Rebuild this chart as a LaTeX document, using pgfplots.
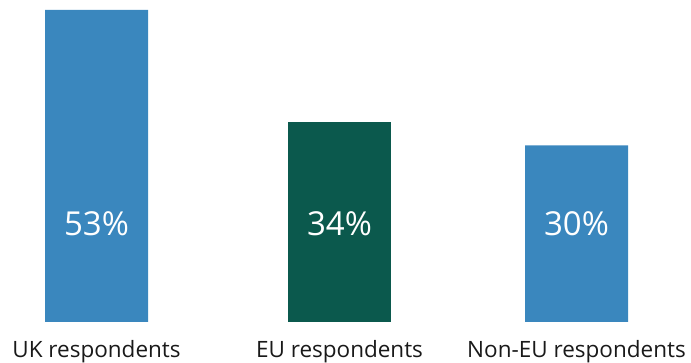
\documentclass[border=0pt]{standalone}
\usepackage{pgfplots}
\pgfplotsset{compat=1.18}
\usepackage{fontspec}
\setmainfont{Open Sans}
\definecolor{barblue}{RGB}{58,135,190}
\definecolor{bargreen}{RGB}{11,89,77}
\begin{document}
\begin{tikzpicture}
\begin{axis}[
  scale only axis,
  width=691pt, height=322pt,
  xmin=0, xmax=691,
  ymin=0, ymax=54.7,
  axis line style={draw=none},
  ytick=\empty,
  xtick={96.5,339.5,576.5},
  xticklabels={UK respondents, EU respondents, Non-EU respondents},
  major tick length=0pt,
  xticklabel style={font=\fontsize{22.5}{25}\selectfont, anchor=base, yshift=-36pt, text=black!90},
  ybar, bar width=103pt,
  bar shift=0pt,
  clip=false,
]
\addplot[fill=barblue, draw=none] coordinates {(96.5,53) (576.5,30)};
\addplot[fill=bargreen, draw=none] coordinates {(339.5,34)};
\addplot[draw=none, fill=none, only marks, mark=none,
  nodes near coords, point meta=explicit symbolic,
  every node near coord/.style={font=\fontsize{33}{36}\selectfont, text=white, anchor=base, yshift=-17pt}]
  coordinates {(96.5,17.5) [53\%] (339.5,17.5) [34\%] (576.5,17.5) [30\%]};
\end{axis}
\pgfresetboundingbox
\path (0,-41pt) rectangle (691pt,322pt);
\end{tikzpicture}
\end{document}
